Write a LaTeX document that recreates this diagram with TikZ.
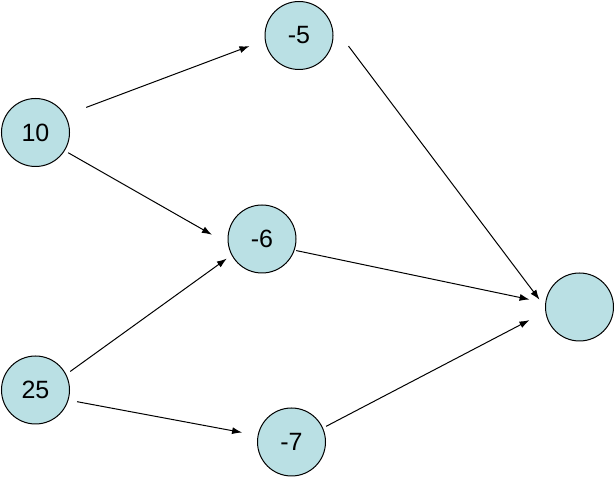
\documentclass[tikz,border=0pt]{standalone}
\usepackage{fontspec}
\setmainfont{Liberation Sans}
\usetikzlibrary{arrows.meta}
\definecolor{nodefill}{RGB}{186,224,228}
\tikzset{
  circ/.style={circle, draw=black, line width=1pt, fill=nodefill, minimum size=68pt, inner sep=0pt, font=\fontsize{25}{25}\selectfont},
  arr/.style={line width=1pt, -{Latex[length=10pt,width=7pt]}}
}
\begin{document}
\begin{tikzpicture}[x=1pt,y=-1pt]
\useasboundingbox (0,0) rectangle (614,478);
\node[circ] (n10) at (35.5,132.5) {10};
\node[circ] (n25) at (35.5,390) {25};
\node[circ] (m5) at (299,35.5) {-5};
\node[circ] (m6) at (262,239) {-6};
\node[circ] (m7) at (291.5,442) {-7};
\node[circ] (out) at (579.5,307) {};
\draw[arr, shorten <=22.3pt, shorten >=16.4pt] (n10.30.9) -- (m5.188.1);
\draw[arr, shorten <=3.9pt, shorten >=18.3pt] (n10.-32.5) -- (m6.188.3);
\draw[arr, shorten <=4.9pt, shorten >=5.8pt] (n25.27.9) -- (m6.208.8);
\draw[arr, shorten <=8.7pt, shorten >=15.8pt] (n25.-17.5) -- (m7.169.8);
\draw[arr, shorten <=28.8pt, shorten >=9.1pt] (m5.21.6) -- (out.180);
\draw[arr, shorten <=1.6pt, shorten >=16pt] (m6.-19.8) -- (out.173.8);
\draw[arr, shorten <=3.5pt, shorten >=17.9pt] (m7.24.6) -- (out.188.1);
\end{tikzpicture}
\end{document}
